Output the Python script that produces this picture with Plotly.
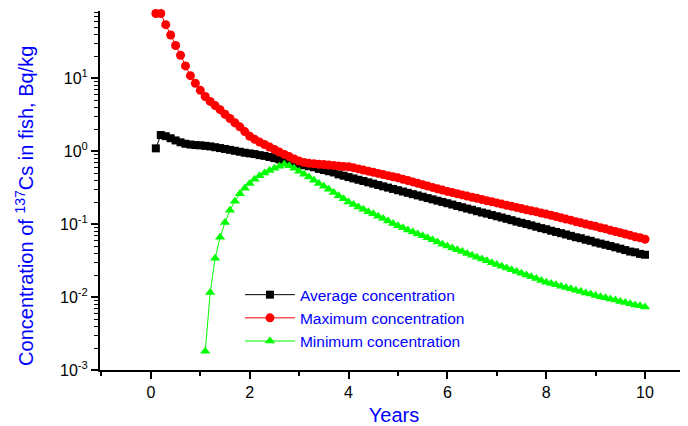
import plotly.graph_objects as go

# time axis, years (0.1-year steps)
years = [round(0.1 * i, 1) for i in range(1, 101)]
years_min = years[10:]

avg_conc = [
    1.09, 1.66, 1.60, 1.50, 1.40, 1.32, 1.26, 1.23, 1.21, 1.20,
    1.18, 1.16, 1.13, 1.10, 1.07, 1.04, 1.01, 0.98, 0.95, 0.93,
    0.91, 0.88, 0.86, 0.83, 0.80, 0.77, 0.74, 0.72, 0.69, 0.66,
    0.64, 0.62, 0.60, 0.57, 0.55, 0.53, 0.51, 0.48, 0.46, 0.44,
    0.422, 0.405, 0.389, 0.373, 0.358, 0.343, 0.329, 0.316, 0.303, 0.291,
    0.279, 0.268, 0.257, 0.247, 0.237, 0.227, 0.218, 0.209, 0.201, 0.193,
    0.185, 0.177, 0.170, 0.163, 0.157, 0.150, 0.144, 0.139, 0.133, 0.128,
    0.123, 0.118, 0.113, 0.108, 0.104, 0.100, 0.096, 0.092, 0.088, 0.085,
    0.081, 0.078, 0.075, 0.072, 0.069, 0.066, 0.064, 0.061, 0.059, 0.056,
    0.054, 0.052, 0.050, 0.048, 0.046, 0.044, 0.042, 0.041, 0.039, 0.038,
]

max_conc = [
    77, 77, 54, 39, 28, 20.6, 14.7, 10.8, 8.5, 6.8,
    5.6, 4.8, 4.2, 3.7, 3.2, 2.8, 2.45, 2.15, 1.85, 1.6,
    1.45, 1.33, 1.23, 1.14, 1.05, 0.97, 0.90, 0.84, 0.78, 0.73,
    0.70, 0.68, 0.67, 0.66, 0.655, 0.645, 0.635, 0.625, 0.615, 0.61,
    0.590, 0.570, 0.550, 0.531, 0.513, 0.495, 0.478, 0.461, 0.445, 0.430,
    0.412, 0.395, 0.378, 0.362, 0.347, 0.332, 0.318, 0.305, 0.292, 0.280,
    0.270, 0.260, 0.251, 0.242, 0.233, 0.225, 0.217, 0.209, 0.202, 0.195,
    0.188, 0.181, 0.175, 0.169, 0.163, 0.157, 0.152, 0.147, 0.142, 0.137,
    0.132, 0.127, 0.122, 0.117, 0.113, 0.108, 0.104, 0.100, 0.096, 0.093,
    0.089, 0.086, 0.082, 0.079, 0.076, 0.073, 0.070, 0.067, 0.065, 0.062,
]

min_conc = [
    0.0018, 0.0115, 0.034, 0.066, 0.105, 0.155, 0.205, 0.26, 0.31, 0.36,
    0.41, 0.46, 0.50, 0.54, 0.58, 0.62, 0.66, 0.63, 0.58, 0.53,
    0.48, 0.44, 0.40, 0.36, 0.33, 0.30, 0.27, 0.245, 0.222, 0.20,
    0.186, 0.172, 0.160, 0.148, 0.138, 0.128, 0.119, 0.110, 0.102, 0.095,
    0.089, 0.083, 0.078, 0.073, 0.069, 0.065, 0.061, 0.057, 0.053, 0.050,
    0.047, 0.0445, 0.042, 0.0395, 0.0373, 0.0352, 0.0332, 0.0314, 0.0296, 0.028,
    0.0265, 0.0250, 0.0237, 0.0224, 0.0212, 0.0200, 0.0189, 0.0179, 0.0169, 0.016,
    0.0153, 0.0147, 0.0141, 0.0135, 0.0130, 0.0124, 0.0119, 0.0114, 0.0110, 0.0105,
    0.0101, 0.0098, 0.0094, 0.0091, 0.0087, 0.0084, 0.0081, 0.0078, 0.0076, 0.0073,
]

y_tickvals = [0.001, 0.01, 0.1, 1, 10]
y_ticktext = ["10<sup>-3</sup>", "10<sup>-2</sup>", "10<sup>-1</sup>", "10<sup>0</sup>", "10<sup>1</sup>"]
y_minor = [m * 10 ** e for e in range(-3, 2) for m in range(2, 10)]
x_tickvals = [0, 2, 4, 6, 8, 10]
x_minor = [-1, 1, 3, 5, 7, 9]

font = "Arial, Liberation Sans, sans-serif"
blue = "#0000FF"

fig = go.Figure()
fig.add_trace(go.Scatter(
    x=years, y=avg_conc, name="Average concentration", mode="lines+markers",
    line=dict(color="black", width=1),
    marker=dict(symbol="square", size=8, color="black"), cliponaxis=False))
fig.add_trace(go.Scatter(
    x=years, y=max_conc, name="Maximum concentration", mode="lines+markers",
    line=dict(color="#FF0000", width=1),
    marker=dict(symbol="circle", size=9, color="#FF0000"), cliponaxis=False))
fig.add_trace(go.Scatter(
    x=years_min, y=min_conc, name="Minimum concentration", mode="lines+markers",
    line=dict(color="#00FF00", width=1),
    marker=dict(symbol="triangle-up", size=9, color="#00FF00"), cliponaxis=False))

fig.update_xaxes(
    range=[-1.03, 10.87], showgrid=False, zeroline=False, automargin=False,
    showline=True, linecolor="black", linewidth=2,
    ticks="outside", ticklen=7, tickwidth=2, tickcolor="black",
    tickvals=x_tickvals, tickfont=dict(family=font, size=16, color="black"),
    minor=dict(tickvals=x_minor, ticks="outside", ticklen=4, tickwidth=2, tickcolor="black"),
    title=dict(text="Years", font=dict(family=font, size=20, color=blue), standoff=14),
)
fig.update_yaxes(
    type="log", range=[-3, 1.92], showgrid=False, zeroline=False, automargin=False,
    showline=True, linecolor="black", linewidth=2,
    ticks="outside", ticklen=7, tickwidth=2, tickcolor="black",
    tickvals=y_tickvals, ticktext=y_ticktext,
    tickfont=dict(family=font, size=16, color="black"),
    minor=dict(tickvals=y_minor, ticks="outside", ticklen=4, tickwidth=1, tickcolor="black"),
)

# y title sits a bit below the middle of the axis, so it is an annotation
fig.add_annotation(
    text="Concentration of <sup>137</sup>Cs in fish, Bq/kg",
    xref="paper", yref="paper", x=-0.1276, y=0.457,
    xanchor="center", yanchor="middle", textangle=-90, showarrow=False,
    font=dict(family=font, size=20, color=blue),
)

# the page body adds an 8px offset at the top-left, so the figure is 8px smaller
fig.update_layout(
    width=680, height=418,
    margin=dict(l=92, r=0, t=3, b=56),
    paper_bgcolor="white", plot_bgcolor="white",
    showlegend=True,
    legend=dict(x=0.238, y=0.256, xanchor="left", yanchor="top",
                bgcolor="rgba(0,0,0,0)", itemwidth=50,
                font=dict(family=font, size=15.5, color=blue)),
)

fig.write_html("out.html")
